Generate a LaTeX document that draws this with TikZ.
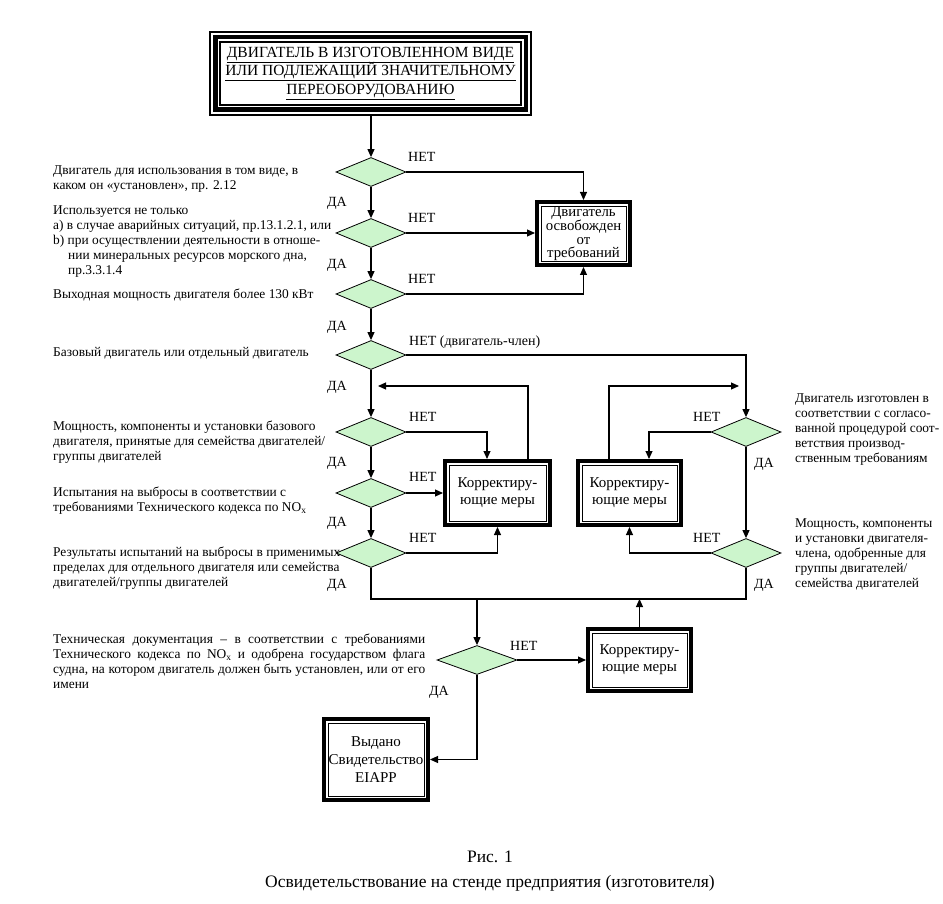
\documentclass[tikz,border=0pt]{standalone}
\usepackage{fontspec}
\setmainfont{Liberation Serif}
\usetikzlibrary{arrows.meta,shapes.geometric,calc}

\definecolor{paleGreen}{RGB}{204,245,204}

\tikzset{
  decision/.style={shape=diamond, draw, fill=paleGreen, line width=0.8pt,
    minimum width=70pt, minimum height=29pt, inner sep=0pt},
  framed/.style={rectangle, fill=white, draw, line width=0.8pt, outer sep=6pt,
    align=center, inner sep=0pt, font=\fontsize{15}{17}\selectfont,
    preaction={draw=black, line width=12pt},
    preaction={draw=white, line width=4.5pt}},
  framedtop/.style={rectangle, fill=white, draw, line width=1.2pt, outer sep=11pt,
    align=center, inner sep=0pt, font=\fontsize{15.5}{18.5}\selectfont,
    preaction={draw=black, line width=22pt},
    preaction={draw=white, line width=18pt},
    preaction={draw=black, line width=14pt},
    preaction={draw=white, line width=5pt}},
  lbl/.style={font=\fontsize{14}{16}\selectfont, inner sep=0pt},
  note/.style={font=\fontsize{13.4}{15}\selectfont, align=left,
    anchor=north west, inner sep=0pt},
  arr/.style={line width=1.1pt, -{Triangle[length=8pt,width=7pt]}},
  wire/.style={line width=1.1pt}
}

\begin{document}
\begin{tikzpicture}[x=1pt,y=-1pt]
  \useasboundingbox (0,0) rectangle (943,904);

  % Top block
  \node[framedtop, minimum width=301pt, minimum height=63pt] (start) at (370.5,73.5)
    {\underline{ДВИГАТЕЛЬ В ИЗГОТОВЛЕННОМ ВИДЕ}\\\underline{ИЛИ ПОДЛЕЖАЩИЙ ЗНАЧИТЕЛЬНОМУ}\\\underline{ПЕРЕОБОРУДОВАНИЮ}};

  % Main column
  \node[decision] (d1) at (371,172) {};
  \node[decision] (d2) at (371,233) {};
  \node[decision] (d3) at (371,294) {};
  \node[decision] (d4) at (371,355) {};
  \node[decision] (d5) at (371,432) {};
  \node[decision] (d6) at (371,493) {};
  \node[decision] (d7) at (371,553) {};
  \node[decision, minimum width=80pt] (d8) at (477,660) {};

  % Right column
  \node[decision] (r1) at (746,432) {};
  \node[decision] (r2) at (746,553) {};

  % Boxes
  \node[framed, minimum width=85pt, minimum height=55pt, font=\fontsize{14.8}{13.2}\selectfont] (free) at (583.5,233.5)
    {Двигатель\\освобожден\\от\\требований};
  \node[framed, minimum width=97pt, minimum height=56pt] (fix1) at (497.5,493) {Корректиру-\\ющие меры};
  \node[framed, minimum width=95pt, minimum height=56pt] (fix2) at (629.5,493) {Корректиру-\\ющие меры};
  \node[framed, minimum width=95pt, minimum height=54pt] (fix3) at (639.5,660) {Корректиру-\\ющие меры};
  \node[framed, minimum width=96pt, minimum height=73pt, font=\fontsize{15}{18}\selectfont] (cert) at (376,759.5)
    {Выдано\\Свидетельство\\EIAPP};

  % Connectors
  \draw[arr] (start.south -| d1.north) -- (d1.north);
  \foreach \a/\b in {d1/d2,d2/d3,d3/d4,d4/d5,d5/d6,d6/d7,r1/r2}
    \draw[arr] (\a.south) -- (\b.north);
  \draw[arr] (d1.east) -| (free.north);
  \draw[arr] (d2.east) -- (d2.east -| free.west);
  \draw[arr] (d3.east) -| (free.south);
  \draw[arr] (d4.east) -| (r1.north);
  \draw[arr] (d5.east) -| ([xshift=-10.5pt]fix1.north);
  \draw[arr] (d6.east) -- (fix1.west);
  \draw[arr] (d7.east) -| (fix1.south);
  \draw[arr] (r1.west) -| ([xshift=19.5pt]fix2.north);
  \draw[arr] (r2.west) -| (fix2.south);

  % Loops back
  \coordinate (back1) at (378,386);
  \coordinate (back2) at (739,386);
  \draw[arr] ([xshift=30.5pt]fix1.north) |- (back1);
  \draw[arr] ([xshift=-20.5pt]fix2.north) |- (back2);

  % Joining line
  \coordinate (jl) at (371,599);
  \coordinate (jr) at (746,599);
  \draw[wire] (d7.south) -- (jl) -- (jr) -- (r2.south);
  \draw[arr] (d8.north |- jl) -- (d8.north);
  \draw[arr] (fix3.north) -- (fix3.north |- jl);
  \draw[arr] (d8.east) -- (fix3.west);
  \draw[arr] (d8.south) |- (cert.east);

  % НЕТ / ДА
  \node[lbl, anchor=west] (no1) at (408,157) {НЕТ};
  \node[lbl, anchor=west] (no2) at (408,218) {НЕТ};
  \node[lbl, anchor=west] (no3) at (408,279) {НЕТ};
  \node[lbl, anchor=west] (no4) at (409,342) {НЕТ (двигатель-член)};
  \node[lbl, anchor=west] (no5) at (409,417) {НЕТ};
  \node[lbl, anchor=west] (no6) at (409,477) {НЕТ};
  \node[lbl, anchor=west] (no7) at (409,538) {НЕТ};
  \node[lbl, anchor=west] (no8) at (510,646) {НЕТ};
  \node[lbl, anchor=west] (nor1) at (693,417) {НЕТ};
  \node[lbl, anchor=west] (nor2) at (693,538) {НЕТ};
  \foreach \y in {203,265,327,387,463,523,585}
    \node[lbl] (yes\y) at (337,\y) {ДА};
  \node[lbl] (yes8) at (439,692) {ДА};
  \node[lbl] (yesr1) at (764,464) {ДА};
  \node[lbl] (yesr2) at (764,585) {ДА};

  % Questions, left
  \node[note] (q1) at (53,166) {Двигатель для использования в том виде, в\\каком он «установлен», пр. 2.12};
  \node[note] (q2) at (53,206) {Используется не только\\a) в случае аварийных ситуаций, пр.13.1.2.1, или\\b) при осуществлении деятельности в отноше-\\\hspace*{15pt}нии минеральных ресурсов морского дна,\\\hspace*{15pt}пр.3.3.1.4};
  \node[note] (q3) at (53,289) {Выходная мощность двигателя более 130 кВт};
  \node[note] (q4) at (53,347) {Базовый двигатель или отдельный двигатель};
  \node[note] (q5) at (53,421) {Мощность, компоненты и установки базового\\двигателя, принятые для семейства двигателей/\\группы двигателей};
  \node[note] (q6) at (53,487) {Испытания на выбросы в соответствии с\\требованиями Технического кодекса по NO\textsubscript{x}};
  \node[note] (q7) at (53,547) {Результаты испытаний на выбросы в применимых\\пределах для отдельного двигателя или семейства\\двигателей/группы двигателей};
  \node[note, text width=372pt, align=justify] (q8) at (53,634)
    {Техническая документация -- в соответствии с требованиями\linebreak
     Технического кодекса по NO\textsubscript{x} и одобрена государством флага\linebreak
     судна, на котором двигатель должен быть установлен, или от его\linebreak
     имени};

  % Questions, right
  \node[note] (q9) at (795,394) {Двигатель изготовлен в\\соответствии с согласо-\\ванной процедурой соот-\\ветствия производ-\\ственным требованиям};
  \node[note] (q10) at (795,519) {Мощность, компоненты\\и установки двигателя-\\члена, одобренные для\\группы двигателей/\\семейства двигателей};

  % Caption
  \node[font=\fontsize{17.5}{20}\selectfont] (fig) at (490,857) {Рис. 1};
  \node[font=\fontsize{17.5}{20}\selectfont] (title) at (490,883) {Освидетельствование на стенде предприятия (изготовителя)};
\end{tikzpicture}
\end{document}
